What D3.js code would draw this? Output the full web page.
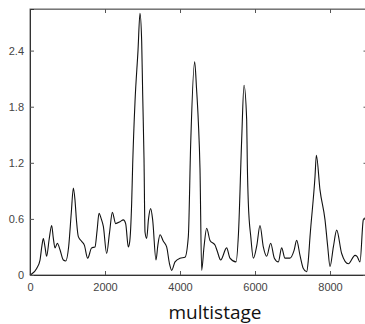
<!DOCTYPE html>
<html>
<head>
<meta charset="utf-8">
<script src="https://cdn.jsdelivr.net/npm/d3@7"></script>
<style>
  body { margin: 0; background: #fff; overflow: hidden; }
  svg { display: block; }
  .tick text { font-family: "Liberation Sans", Arial, sans-serif; font-size: 11px; fill: #444; }
  .title { font-family: "Open Sans", sans-serif; font-size: 19px; fill: #111; }
</style>
</head>
<body>
<svg id="chart" width="365" height="324"></svg>
<script>
// trace: sample position and value
const positions = [0, 45, 178, 267, 320, 356, 400, 444, 510, 578, 620, 667, 729, 800, 889, 951, 1030, 1100, 1156, 1200, 1240, 1289, 1378, 1449, 1538, 1644, 1733, 1790, 1840, 1900, 1956, 2044, 2120, 2196, 2284, 2400, 2489, 2551, 2622, 2660, 2711, 2738, 2800, 2880, 2933, 2978, 3005, 3040, 3067, 3111, 3160, 3218, 3271, 3360, 3410, 3467, 3556, 3644, 3720, 3778, 3867, 4000, 4133, 4222, 4284, 4391, 4440, 4489, 4533, 4578, 4640, 4711, 4800, 4933, 4990, 5084, 5244, 5333, 5493, 5560, 5644, 5707, 5778, 5795, 5822, 5890, 5956, 6050, 6133, 6222, 6311, 6418, 6516, 6622, 6711, 6800, 6933, 7040, 7111, 7200, 7289, 7378, 7420, 7467, 7600, 7636, 7733, 7867, 7940, 8000, 8090, 8178, 8311, 8489, 8667, 8720, 8800, 8889, 8933, 9000];
const values = [0, 0.01, 0.07, 0.16, 0.32, 0.39, 0.3, 0.2, 0.38, 0.53, 0.4, 0.29, 0.34, 0.27, 0.16, 0.15, 0.3, 0.66, 0.93, 0.8, 0.58, 0.41, 0.36, 0.32, 0.18, 0.29, 0.3, 0.48, 0.66, 0.6, 0.52, 0.23, 0.45, 0.67, 0.55, 0.57, 0.59, 0.55, 0.3, 0.36, 0.77, 1.18, 1.85, 2.4, 2.8, 2.5, 1.93, 1.25, 0.46, 0.39, 0.6, 0.71, 0.59, 0.16, 0.32, 0.43, 0.36, 0.3, 0.12, 0.05, 0.14, 0.18, 0.19, 0.41, 1.39, 2.28, 2.0, 1.64, 1.14, 0.05, 0.3, 0.5, 0.37, 0.32, 0.26, 0.16, 0.29, 0.18, 0.14, 0.45, 1.44, 2.03, 1.66, 1.19, 0.77, 0.4, 0.18, 0.32, 0.53, 0.3, 0.2, 0.34, 0.18, 0.14, 0.29, 0.18, 0.18, 0.26, 0.37, 0.21, 0.07, 0.035, 0.15, 0.41, 1.05, 1.28, 0.91, 0.59, 0.3, 0.09, 0.3, 0.48, 0.23, 0.12, 0.21, 0.2, 0.14, 0.59, 0.61, 0.55];
const xTicks = [0, 2000, 4000, 6000, 8000];
const yTicks = [0, 0.6, 1.2, 1.8, 2.4];
const titleText = "multistage";

const svg = d3.select("#chart");
const margin = { top: 9, left: 30, bottom: 49 };
const plotRight = 367.5;
const plotBottom = 324 - margin.bottom;

const x = d3.scaleLinear().domain([0, 9000]).range([margin.left, plotRight]);
const y = d3.scaleLinear().domain([0, 2.845]).range([plotBottom, margin.top]);

const data = positions.map((p, i) => ({ p, v: values[i] }));

// frame
svg.append("rect")
    .attr("x", margin.left).attr("y", margin.top)
    .attr("width", plotRight - margin.left).attr("height", plotBottom - margin.top)
    .attr("fill", "none").attr("stroke", "#666").attr("stroke-width", 1);

svg.append("path")
    .datum(data)
    .attr("fill", "none")
    .attr("stroke", "#111")
    .attr("stroke-width", 1.1)
    .attr("d", d3.line().curve(d3.curveMonotoneX).x(d => x(d.p)).y(d => y(d.v)));

const fmtY = d => d === 0 ? "0" : d3.format(".1f")(d);

svg.append("g")
    .attr("transform", `translate(0,${plotBottom})`)
    .call(d3.axisBottom(x).tickValues(xTicks).tickSize(-4).tickPadding(8).tickFormat(d3.format("d")))
    .call(g => g.select(".domain").attr("stroke", "#333"))
    .call(g => g.selectAll(".tick line").attr("stroke", "#555"));

svg.append("g")
    .attr("transform", `translate(0,${margin.top})`)
    .call(d3.axisTop(x).tickValues(xTicks).tickSize(-4).tickFormat(""))
    .call(g => g.select(".domain").attr("stroke", "#777"))
    .call(g => g.selectAll(".tick line").attr("stroke", "#555"));

svg.append("g")
    .attr("transform", `translate(${margin.left},0)`)
    .call(d3.axisLeft(y).tickValues(yTicks).tickSize(-4).tickPadding(6).tickFormat(fmtY))
    .call(g => g.select(".domain").attr("stroke", "#333"))
    .call(g => g.selectAll(".tick line").attr("stroke", "#555"));

svg.append("g")
    .attr("transform", `translate(${plotRight},0)`)
    .call(d3.axisRight(y).tickValues(yTicks).tickSize(-4).tickFormat(""))
    .call(g => g.select(".domain").attr("stroke", "#777"))
    .call(g => g.selectAll(".tick line").attr("stroke", "#555"));

svg.append("text")
    .attr("class", "title")
    .attr("x", 215).attr("y", 319)
    .attr("text-anchor", "middle")
    .text(titleText);
</script>
</body>
</html>
